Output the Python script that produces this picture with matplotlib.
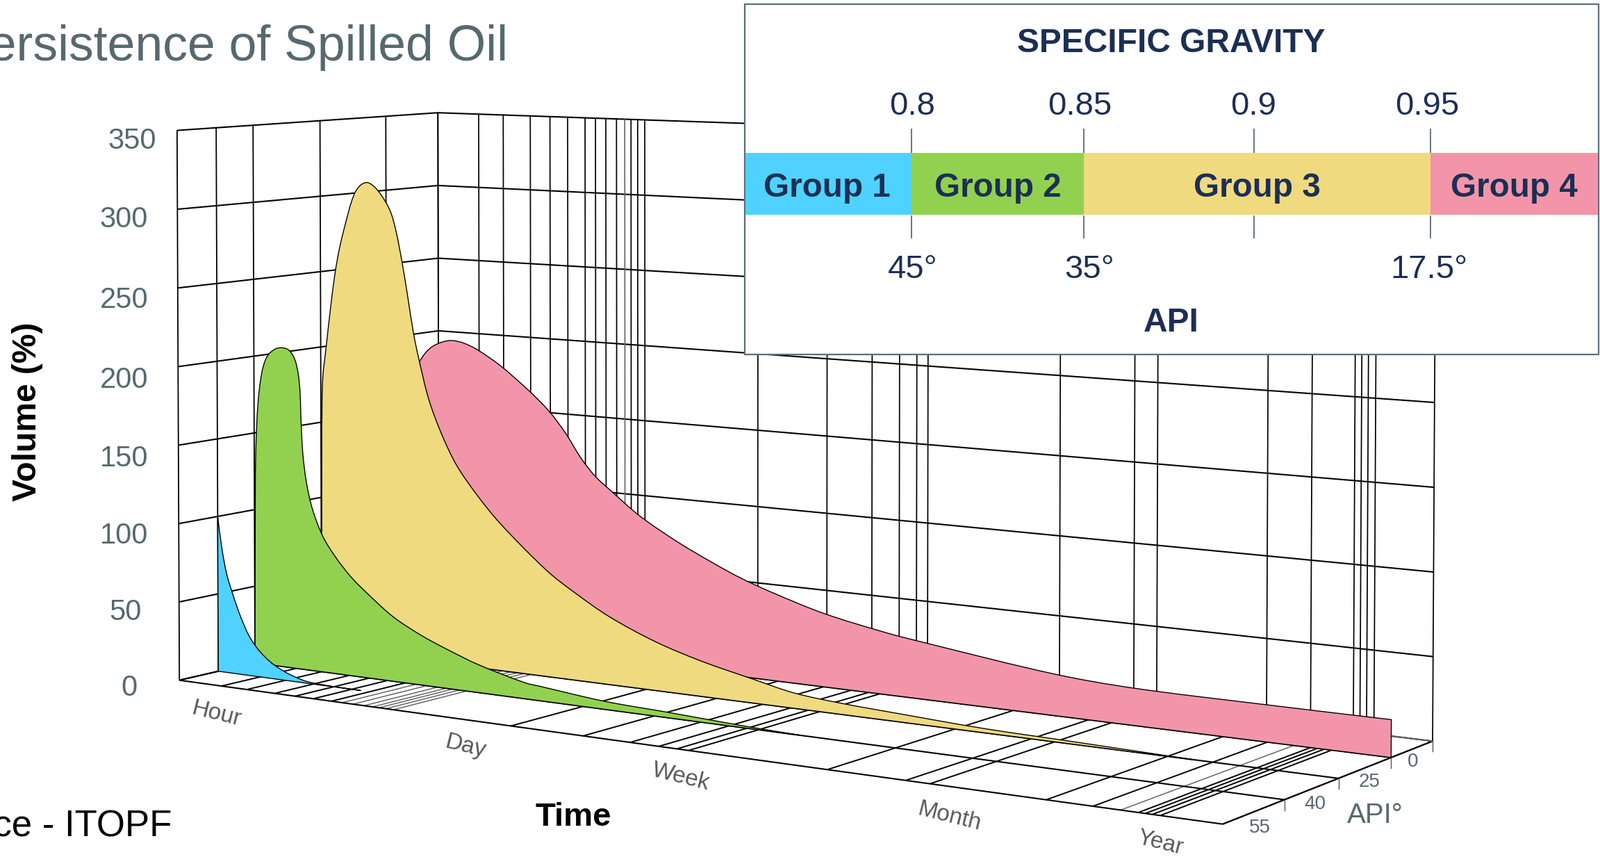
import numpy as np
import matplotlib
matplotlib.use('Agg')
import matplotlib.pyplot as plt
from matplotlib.path import Path
from matplotlib.patches import PathPatch, Rectangle

plt.rcParams['font.family'] = ['Liberation Sans', 'DejaVu Sans']

# time axis runs 0..1 along the log scale, gridlines
time_grid = [0, .0475, .0758, .1067, .129, .1489, .1684, .356, .4283, .4745, .5023, .5197,
             .5309, .6605, .7312, .7527, .8536, .8931, .931, .9368, .9426, .9491, 1]
time_fine = [.18, .1915, .2033, .2124, .2193, .2266, .2344]
time_grey = [.9163]
time_labels = ['Hour', 'Day', 'Week', 'Month', 'Year']
vol_ticks = [0, 50, 100, 150, 200, 250, 300, 350]
api_labels = ['0', '25', '40', '55']

# depth of each API line across the floor, 0 = back wall, 1 = front edge
depth_grid = [.213, .472, .725]
depth_blue, depth_green, depth_yellow, depth_pink = .86, .725, .472, .213

blue_t = [0, .0047, .00998, .0178, .0256, .0347, .0438, .0529, .0632, .0799, .1028, .159]
blue_v = [100, 79.6, 63.6, 49.3, 37.2, 25.9, 18.5, 13.3, 8.9, 4.3, .9, 0]

green_t = [0, .001, .0018, .0045, .0089, .015, .0242, .032, .0398, .0463, .0502, .0523, .0536, .0554,
           .0593, .0658, .0774, .0915, .1094, .1297, .155, .1851, .2124, .2469, .2955, .3123, .3786,
           .4414, .5098, .5405, .5715]
green_v = [0, 108, 138.6, 169.3, 189.3, 200.4, 205.7, 206.9, 205.7, 200.3, 191.4, 179.5, 156.9, 138.7,
           120.9, 104.5, 87.5, 75.1, 63, 52.6, 41.1, 31.6, 24.9, 17.5, 10, 8.9, 4.9, 3.3, 1.3, .6, 0]

yellow_t = [0, .001, .0022, .0061, .0114, .0167, .0221, .0286, .0366, .0431, .0523, .0602, .0694, .0798,
            .0862, .0928, .0992, .1057, .1122, .1224, .1363, .1531, .176, .2012, .2511, .2806,
            .3172, .3654, .4126, .4652, .5057, .551, .604, .6875, .7688, .8757]
yellow_v = [0, 146.4, 178.8, 199.2, 225.8, 249.2, 266.5, 282.1, 298.7, 306.6, 310.5, 308.8, 303, 292.6,
            279.8, 260.1, 237.4, 213.3, 195.3, 171.4, 149.8, 130, 111.6, 94.8, 67.9, 55.9,
            43.1, 30.7, 22, 14.7, 9.4, 6.8, 5, 2.5, 1.5, 0]

pink_t = [0, 0, .02, .0416, .0519, .0653, .0758, .0889, .1046, .1305, .1611, .184, .2021, .2197, .2348,
          .2522, .2833, .3238, .3602, .3891, .4198, .4742, .5366, .5748, .6981, .7723, .888, 1]
pink_v = [0, 100, 165, 188.8, 195.9, 200.2, 201.5, 200.4, 196.6, 187.1, 172.6, 159.9, 146.5, 130.4, 119.6,
          110.9, 96.3, 81.9, 71, 63.2, 56.5, 46.5, 38.8, 35.3, 25.4, 22.5, 22, 22]

sg_labels = ['0.8', '0.85', '0.9', '0.95']
deg_labels = ['45°', '35°', '17.5°']
group_labels = ['Group 1', 'Group 2', 'Group 3', 'Group 4']

BLUE, GREEN, YELLOW, PINK = '#4fd2ff', '#92d14f', '#f0da7f', '#f395a9'
SLATE = '#56696f'
NAVY = '#1c2f54'
WIDTH, HEIGHT = 2303, 1233


def fit_camera():
    # perspective camera from box corners and the 200 line, (time, depth, vol/350) -> pixel
    # floor corners count for more so the floor stays where it should
    world = [(0, 0, 0), (1, 0, 0), (0, 1, 0), (1, 1, 0), (0, 0, 1), (0, 1, 1), (1, 0, 1),
             (0, 1, 200 / 350), (0, 0, 200 / 350), (1, 0, 200 / 350)]
    image = [(632, 893), (2062, 1066), (258, 978), (1760, 1186), (629.5, 160), (256, 187), (2067, 212),
             (257, 534.7), (630.5, 474), (2064, 579)]
    weight = [4, 4, 4, 4, 1, 1, 1, 1, 1, 1]
    rows = []
    for (a, b, c), (px, py), k in zip(world, image, weight):
        rows.append([k * n for n in [a, b, c, 1, 0, 0, 0, 0, -px * a, -px * b, -px * c, -px]])
        rows.append([k * n for n in [0, 0, 0, 0, a, b, c, 1, -py * a, -py * b, -py * c, -py]])
    return np.linalg.svd(np.array(rows, float))[2][-1].reshape(3, 4)


CAM = fit_camera()


def project(t, d, v):
    t, d, v = np.broadcast_arrays(np.asarray(t, float), np.asarray(d, float), np.asarray(v, float))
    pts = np.stack([t, d, v / 350, np.ones_like(t)])
    x, y, w = CAM @ pts
    return x / w, y / w


def grid_line(ax, t, d, v, color='black', lw=1.4):
    x, y = project(t, d, v)
    ax.plot(x, y, color=color, lw=lw, solid_capstyle='butt', zorder=2)


def smooth_curve(xs, ys):
    # bezier segments through the read points
    p = np.column_stack([xs, ys])
    tan = np.zeros_like(p)
    tan[1:-1] = p[2:] - p[:-2]
    tan[0] = p[1] - p[0]
    tan[-1] = p[-1] - p[-2]
    tan /= np.maximum(np.linalg.norm(tan, axis=1, keepdims=True), 1e-9)
    verts, codes = [], []
    for i in range(len(p) - 1):
        h = np.linalg.norm(p[i + 1] - p[i]) / 3
        verts += [p[i] + tan[i] * h, p[i + 1] - tan[i + 1] * h, p[i + 1]]
        codes += [Path.CURVE4] * 3
    return verts, codes


def draw_oil(ax, t, v, depth, color, z):
    t = np.array(t)
    v = np.array(v)
    x, y = project(t, depth, v)
    start = 1 if v[0] == 0 else 0
    bx, by = project(0, depth, 0)
    ex, ey = project(t[-1], depth, 0)
    verts = [(float(bx), float(by)), (x[start], y[start])]
    codes = [Path.MOVETO, Path.LINETO]
    cv, cc = smooth_curve(x[start:], y[start:])
    verts += cv
    codes += cc
    verts += [(float(ex), float(ey)), (float(bx), float(by))]
    codes += [Path.LINETO, Path.CLOSEPOLY]
    ax.add_patch(PathPatch(Path(verts, codes), facecolor=color, edgecolor='black', lw=1.0,
                           joinstyle='miter', zorder=z))


fig = plt.figure(figsize=(WIDTH / 100, HEIGHT / 100), dpi=100)
ax = fig.add_axes([0, 0, 1, 1])
ax.set_xlim(0, WIDTH)
ax.set_ylim(HEIGHT, 0)
ax.axis('off')

# walls
for v in vol_ticks:
    grid_line(ax, [0, 0], [1, 0], [v, v], lw=1.5)
    grid_line(ax, [0, 1], [0, 0], [v, v], lw=1.5)
for d in [0, 1] + depth_grid + [depth_blue]:
    grid_line(ax, [0, 0], [d, d], [0, 350], lw=1.3)
for t in time_grid + time_fine:
    col = '#666666' if t == .2124 else 'black'
    grid_line(ax, [t, t], [0, 0], [0, 350], color=col, lw=1.25)

# floor
for t in time_grid:
    grid_line(ax, [t, t], [0, 1], [0, 0])
for t in time_fine + time_grey:
    grid_line(ax, [t, t], [0, 1], [0, 0], color='#666666', lw=1.1)
for d in depth_grid + [1]:
    grid_line(ax, [0, 1], [d, d], [0, 0], lw=1.5)
grid_line(ax, [1, 1], [0, 1], [0, 0], lw=1.5)
grid_line(ax, [0, 1], [0, 0], [0, 0], color='#666666', lw=1.3)

draw_oil(ax, pink_t, pink_v, depth_pink, PINK, 3)
draw_oil(ax, yellow_t, yellow_v, depth_yellow, YELLOW, 4)
draw_oil(ax, green_t, green_v, depth_green, GREEN, 5)
draw_oil(ax, blue_t, blue_v, depth_blue, BLUE, 6)

# api ticks down from the right floor edge
for d in [0] + depth_grid:
    x, y = project(1, d, 0)
    ax.plot([x, x], [y, y + 15], color='#555555', lw=1.0, zorder=2)

# axis text
vol_right = [198, 204, 213, 213, 213, 213, 213, 225]
vol_y = [990, 881, 771, 660, 547, 432, 316, 203]
for v, right, y in zip(vol_ticks, vol_right, vol_y):
    ax.text(right, y, str(v), ha='right', va='center', fontsize=30, color=SLATE)

label_x = [311, 670, 980, 1366, 1670]
label_y = [1027, 1074, 1118, 1175, 1213]
for name, x, y in zip(time_labels, label_x, label_y):
    ax.text(x, y, name, ha='center', va='center', rotation=-14, rotation_mode='anchor',
            fontsize=24, color='#595959')

api_x = [2034, 1971, 1893, 1813]
api_y = [1096, 1125, 1157, 1191]
for name, x, y in zip(api_labels, api_x, api_y):
    ax.text(x, y, name, ha='center', va='center', fontsize=20, color=SLATE)
ax.text(1979, 1173, 'API°', ha='center', va='center', fontsize=29, color=SLATE)

ax.text(40, 592, 'Volume (%)', rotation=90, ha='center', va='center', fontsize=34.5,
        fontweight='bold', color='black')
ax.text(825, 1176, 'Time', ha='center', va='center', fontsize=34, fontweight='bold', color='black')
ax.text(731, 87, 'Persistence of Spilled Oil', ha='right', va='baseline', fontsize=51.5, color=SLATE)
ax.text(247, 1204, 'Source - ITOPF', ha='right', va='baseline', fontsize=38, color='black')

# specific gravity inset
ax.add_patch(Rectangle((1072, 6), 1229, 504, facecolor='white', edgecolor='#5b6f7a', lw=1.6, zorder=10))
edges = [1073, 1312, 1560, 2059, 2300]
for i, col in enumerate([BLUE, GREEN, YELLOW, PINK]):
    ax.add_patch(Rectangle((edges[i], 220), edges[i + 1] - edges[i], 89, facecolor=col, edgecolor='none', zorder=11))
for x in [1312, 1560, 1805, 2059]:
    ax.plot([x, x], [185, 220], color='#5b6b75', lw=1.3, zorder=11, solid_capstyle='butt')
    ax.plot([x, x], [310, 343], color='#5b6b75', lw=1.3, zorder=11, solid_capstyle='butt')
ax.text(1686, 75, 'SPECIFIC GRAVITY', ha='center', va='baseline', fontsize=34.5, fontweight='bold', color=NAVY, zorder=12)
ax.text(1686, 477, 'API', ha='center', va='baseline', fontsize=34.5, fontweight='bold', color=NAVY, zorder=12)
for name, x in zip(sg_labels, [1313, 1554, 1804, 2054]):
    ax.text(x, 165, name, ha='center', va='baseline', fontsize=34, color=NAVY, zorder=12)
for name, x in zip(deg_labels, [1314, 1568, 2057]):
    ax.text(x, 400, name, ha='center', va='baseline', fontsize=34, color=NAVY, zorder=12)
for name, x in zip(group_labels, [1190, 1436, 1809, 2179]):
    ax.text(x, 283, name, ha='center', va='baseline', fontsize=34.3, fontweight='bold', color=NAVY, zorder=12)

fig.savefig('out.png', dpi=100, facecolor='white')
